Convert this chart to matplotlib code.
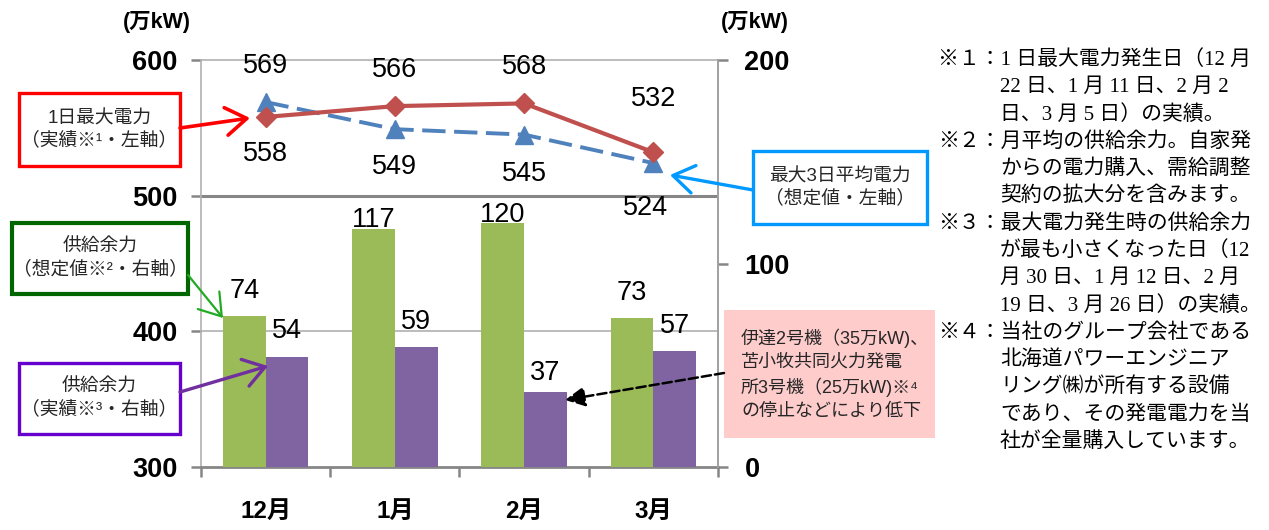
import numpy as np
import matplotlib.pyplot as plt
from matplotlib.patches import Rectangle, FancyArrowPatch

plt.rcParams['font.family'] = ['Liberation Sans', 'Noto Sans CJK JP', 'DejaVu Sans']

# data (万kW)
months = ['12月', '1月', '2月', '3月']
peak_actual = [558, 566, 568, 532]       # 1日最大電力 実績 (左軸)
peak3_forecast = [569, 549, 545, 524]    # 最大3日平均電力 想定値 (左軸)
reserve_forecast = [74, 117, 120, 73]    # 供給余力 想定値 (右軸)
reserve_actual = [54, 59, 37, 57]        # 供給余力 実績 (右軸)
left_ticks = [300, 400, 500, 600]
right_ticks = [0, 100, 200]

notes = [
    ['※１：1 日最大電力発生日（12 月', '22 日、1 月 11 日、2 月 2', '日、3 月 5 日）の実績。'],
    ['※２：月平均の供給余力。自家発', 'からの電力購入、需給調整', '契約の拡大分を含みます。'],
    ['※３：最大電力発生時の供給余力', 'が最も小さくなった日（12', '月 30 日、1 月 12 日、2 月',
     '19 日、3 月 26 日）の実績。'],
    ['※４：当社のグループ会社である', '北海道パワーエンジニア', 'リング㈱が所有する設備',
     'であり、その発電電力を当', '社が全量購入しています。'],
]

# label offsets in points
red_off = [-27, 26, 26, 38]
blue_off = [26, -27, -28, -32]
green_gap = [13.5, 1.5, 0.5, 13]
purple_gap = [14, 13, 8.5, 13]

W, H = 1269, 530
fig = plt.figure(figsize=(W / 100, H / 100), dpi=100)


def px(x, y):
    return (x / W, 1 - y / H)


ax = fig.add_axes([201 / W, 1 - 467 / H, 517 / W, 407 / H])
axr = ax.twinx()
axl = fig.add_axes(ax.get_position(), sharex=ax, sharey=ax)
axl.axis('off')

x = np.arange(len(months))
ax.set_xlim(-0.5, len(months) - 0.5)
ax.set_ylim(left_ticks[0], left_ticks[-1])
axr.set_ylim(right_ticks[0], right_ticks[-1])

# grid lines (500 heavier)
ax.axhline(400, color='#b0b0b0', lw=1.2, zorder=0)
ax.axhline(500, color='#868686', lw=2.2, zorder=0)

for s in ['left', 'top']:
    ax.spines[s].set_color('#b0b0b0')
    ax.spines[s].set_linewidth(1.2)
ax.spines['bottom'].set_color('#868686')
ax.spines['bottom'].set_linewidth(2)
ax.spines['right'].set_visible(False)
for s in ['left', 'top', 'bottom']:
    axr.spines[s].set_visible(False)
axr.spines['right'].set_color('#a0a0a0')
axr.spines['right'].set_linewidth(1.4)

ax.set_yticks(left_ticks)
ax.tick_params(axis='y', direction='out', length=7, width=1.8, color='#868686',
               pad=10, labelsize=19.5)
axr.set_yticks(right_ticks)
axr.tick_params(axis='y', direction='out', length=7, width=1.8, color='#868686',
                pad=12, labelsize=19.5)
for lab in ax.get_yticklabels() + axr.get_yticklabels():
    lab.set_fontweight('bold')

ax.set_xticks(np.arange(len(months) + 1) - 0.5)
ax.set_xticklabels([])
ax.tick_params(axis='x', which='major', direction='out', length=7, width=1.8, color='#868686')
ax.set_xticks(x, months, minor=True)
ax.tick_params(axis='x', which='minor', length=0, pad=24, labelsize=17.5)
for lab in ax.get_xticklabels(minor=True):
    lab.set_fontweight('bold')

# bars on the right axis
bw = 0.33
axr.bar(x - bw / 2, reserve_forecast, bw, color='#9BBB59')
axr.bar(x + bw / 2, reserve_actual, bw, color='#8064A2')
for i, v in enumerate(reserve_forecast):
    axr.annotate(str(v), (x[i] - bw / 2, v), xytext=(0, green_gap[i]),
                 textcoords='offset points', ha='center', va='baseline', fontsize=19.5)
for i, v in enumerate(reserve_actual):
    axr.annotate(str(v), (x[i] + bw / 2, v), xytext=(0, purple_gap[i]),
                 textcoords='offset points', ha='center', va='baseline', fontsize=19.5)

# lines on the left axis
axl.plot(x, peak3_forecast, color='#4F81BD', lw=2.8, ls=(0, (6, 2.2)),
         marker='^', ms=13, zorder=3)
axl.plot(x, peak_actual, color='#C0504D', lw=3.0, marker='D', ms=10, zorder=4)
for i, v in enumerate(peak_actual):
    axl.annotate(str(v), (x[i], v), xytext=(0, red_off[i]), textcoords='offset points',
                 ha='center', va='center', fontsize=19.5)
for i, v in enumerate(peak3_forecast):
    dx = -6 if i == 3 else 0
    axl.annotate(str(v), (x[i], v), xytext=(dx, blue_off[i]), textcoords='offset points',
                 ha='center', va='center', fontsize=19.5)

# axis units
fig.text(*px(157, 22), '(万kW)', ha='center', va='center', fontsize=15.5, fontweight='bold')
fig.text(*px(755, 22), '(万kW)', ha='center', va='center', fontsize=15.5, fontweight='bold')


def callout(x0, y0, x1, y1, text, edge, lw, face='white', size=13.5, ls=1.3):
    fig.add_artist(Rectangle(px(x0, y1), (x1 - x0) / W, (y1 - y0) / H,
                             transform=fig.transFigure, facecolor=face,
                             edgecolor=edge, lw=lw))
    fig.text(*px((x0 + x1) / 2, (y0 + y1) / 2), text, ha='center', va='center',
             fontsize=size, color='#262626', linespacing=ls)


def arrow(p0, p1, color, lw, style='->,head_length=0.75,head_width=0.5', ls='-'):
    fig.add_artist(FancyArrowPatch(px(*p0), px(*p1), transform=fig.transFigure,
                                   arrowstyle=style, mutation_scale=20, color=color,
                                   lw=lw, linestyle=ls, shrinkA=0, shrinkB=0))


callout(19, 93, 180, 166, '1日最大電力\n（実績※¹・左軸）', '#FF0000', 2.4)
arrow((180, 128), (250, 118), '#FF0000', 2.6)

callout(12, 223, 188, 294, '供給余力\n（想定値※²・右軸）', '#006600', 3.0)
arrow((188, 275), (223, 318), '#22AA22', 1.6)

callout(19, 363, 180, 434, '供給余力\n（実績※³・右軸）', '#6600CC', 2.4)
arrow((180, 392), (268, 366), '#7030A0', 2.4)

callout(753, 151, 927, 224, '最大3日平均電力\n（想定値・左軸）', '#0099FF', 2.4)
arrow((753, 190), (670, 175), '#0099FF', 2.4)

fig.add_artist(Rectangle(px(724, 438), 211 / W, 128 / H, transform=fig.transFigure,
                         facecolor='#FFCCCC', edgecolor='none'))
fig.text(*px(741, 374), '伊達2号機（35万kW)、\n苫小牧共同火力発電\n所3号機（25万kW)※⁴\nの停止などにより低下',
         ha='left', va='center', fontsize=13, color='#262626', linespacing=1.45)
arrow((724, 373), (565, 400), 'black', 1.8, style='-|>,head_length=0.6,head_width=0.3', ls='--')

# footnotes
y = 60
for note in notes:
    for j, line in enumerate(note):
        fig.text(*px(938 if j == 0 else 1000, y), line, ha='left', va='center',
                 fontsize=15, family=['Liberation Serif', 'Noto Sans CJK JP'])
        y += 27.3

fig.savefig('out.png', dpi=100)
